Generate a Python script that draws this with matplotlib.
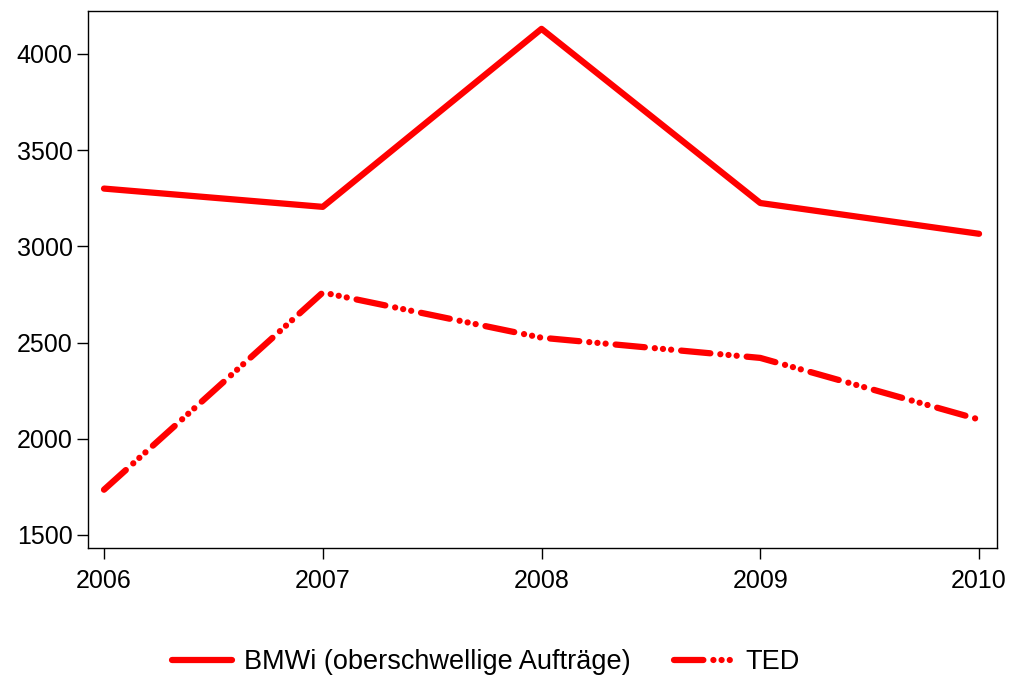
import matplotlib.pyplot as plt

plt.rcParams['font.family'] = ['Liberation Sans', 'DejaVu Sans']

# values
years = [2006, 2007, 2008, 2009, 2010]
bmwi = [3300, 3205, 4130, 3225, 3065]
ted = [1735, 2760, 2525, 2420, 2100]
ytick_vals = [1500, 2000, 2500, 3000, 3500, 4000]

fig = plt.figure(figsize=(10.13, 6.77), dpi=100)
ax = fig.add_axes([0.0869, 0.1905, 0.8973, 0.7933])

lw = 4.5
ax.plot(years, bmwi, color='#ff0000', lw=lw, solid_capstyle='round',
        solid_joinstyle='round', label='BMWi (oberschwellige Aufträge)')
ax.plot(years, ted, color='#ff0000', lw=lw, dash_capstyle='round',
        dash_joinstyle='round',
        dashes=(4.7, 1.6, 0.01, 1.3, 0.01, 1.3, 0.01, 1.6), label='TED')

ax.set_xlim(2005.927, 2010.082)
ax.set_ylim(1432, 4223)
ax.set_xticks(years)
ax.set_yticks(ytick_vals)
ax.tick_params(direction='out', length=8, width=1, labelsize=18)
ax.tick_params(axis='x', pad=7)
ax.tick_params(axis='y', pad=3)
for s in ax.spines.values():
    s.set_linewidth(1)

fig.legend(loc='center', bbox_to_anchor=(0.48, 0.022), ncol=2, frameon=False,
           fontsize=19.5, handlelength=2.2, columnspacing=1.6, handletextpad=0.45)

fig.savefig('out.png', dpi=100)
